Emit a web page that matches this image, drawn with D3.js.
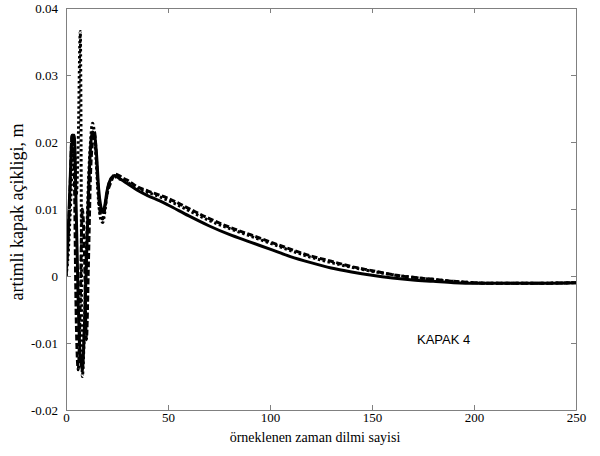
<!DOCTYPE html>
<html><head><meta charset="utf-8">
<script src="https://cdn.jsdelivr.net/npm/d3@7"></script>
<style>body{margin:0;background:#fff}svg{display:block}</style>
</head><body><svg id="c" width="600" height="456"></svg>
<script>
// x ticks / y ticks
const xTicks = [0, 50, 100, 150, 200, 250];
const yTicks = [-0.02, -0.01, 0, 0.01, 0.02, 0.03, 0.04];
const yTickLabels = ["-0.02", "-0.01", "0", "0.01", "0.02", "0.03", "0.04"];

// series 1: solid
const s1x = [0,1,2,3,4,5,6,7,8,9,10,11,12,13,14,15,16,17,18,19,20,22,24,26,28,30,35,40,46,50,60,70,80,90,100,110,120,130,140,150,160,170,180,190,200,225,250];
const s1y = [0,0.006,0.014,0.021,0.021,0.010,-0.004,-0.012,-0.014,-0.008,0.002,0.012,0.019,0.0215,0.021,0.018,0.013,0.0105,0.0095,0.0105,0.0125,0.0145,0.015,0.0146,0.0142,0.0138,0.0128,0.0120,0.0112,0.0106,0.0090,0.0075,0.0062,0.0051,0.0040,0.0029,0.0020,0.0012,0.0006,0.0001,-0.0003,-0.0006,-0.0008,-0.0010,-0.0011,-0.0011,-0.0010];

// series 2: dotted
const s2x = [0,1,2,3,4,5,6,7,8,9,10,11,12,13,14,15,16,17,18,19,20,22,24,26,28,30,35,40,50,60,70,80,90,100,110,120,130,140,150,160,170,180,190,200,210,225,250];
const s2y = [0,0.003,0.009,0.016,0.020,0.012,0.020,0.0365,-0.015,-0.008,0.004,0.014,0.020,0.0228,0.021,0.016,0.011,0.0085,0.008,0.0095,0.012,0.0145,0.0148,0.0145,0.0143,0.0140,0.0130,0.0125,0.0113,0.0098,0.0083,0.0071,0.0060,0.0049,0.0038,0.0028,0.0020,0.0013,0.0007,0.0002,-0.0002,-0.0005,-0.0008,-0.0010,-0.0011,-0.0011,-0.0010];

// series 3: dashed
const s3x = [0,1,2,3,4,5,6,7,8,9,10,11,12,13,14,15,16,17,18,19,20,22,24,26,28,30,35,40,50,60,70,80,90,100,110,120,130,140,150,160,170,180,190,200,210,225,250];
const s3y = [0,0.005,0.013,0.021,0.016,-0.006,-0.014,-0.004,0.010,0.004,-0.0095,0.002,0.015,0.020,0.0215,0.017,0.012,0.009,0.0085,0.010,0.012,0.014,0.0152,0.015,0.0146,0.0143,0.0133,0.0127,0.0116,0.0101,0.0086,0.0073,0.0062,0.0051,0.0040,0.0030,0.0022,0.0014,0.0008,0.0002,-0.0002,-0.0005,-0.0008,-0.0010,-0.0011,-0.0011,-0.0010];

const xLabel = "örneklenen zaman dilmi sayisi";
const yLabel = "artimli kapak açikligi, m";
const note = "KAPAK 4";

const svg = d3.select("#c");
const L = 66, R = 576, T = 8, B = 410;
const x = d3.scaleLinear().domain([0, 250]).range([L, R]);
const y = d3.scaleLinear().domain([-0.02, 0.04]).range([B, T]);
const axisColor = "#808080";
const serif = "'Liberation Serif','Times New Roman',serif";

svg.append("clipPath").attr("id","cp").append("rect")
  .attr("x", L).attr("y", T).attr("width", R-L).attr("height", B-T);

const line = d3.line().x(d => x(d[0])).y(d => y(d[1])).curve(d3.curveMonotoneX);
const g = svg.append("g").attr("clip-path","url(#cp)");
function draw(xs, ys, dash) {
  g.append("path").datum(xs.map((v,i)=>[v, ys[i]]))
    .attr("d", line).attr("fill","none").attr("stroke","#000")
    .attr("stroke-width", 3).attr("stroke-linejoin","round")
    .attr("stroke-dasharray", dash);
}
draw(s3x, s3y, "6,2.5");
draw(s2x, s2y, "2.5,2.5");
draw(s1x, s1y, null);

// axes
const ax = svg.append("g").attr("transform", `translate(0,${B})`)
  .call(d3.axisBottom(x).tickValues(xTicks).tickSize(-5).tickPadding(3).tickSizeOuter(0));
const axT = svg.append("g").attr("transform", `translate(0,${T})`)
  .call(d3.axisTop(x).tickValues(xTicks).tickSize(-5).tickFormat("").tickSizeOuter(0));
const ay = svg.append("g").attr("transform", `translate(${L},0)`)
  .call(d3.axisLeft(y).tickValues(yTicks).tickSize(-5).tickPadding(8).tickSizeOuter(0)
    .tickFormat((d,i)=>yTickLabels[i]));
const ayR = svg.append("g").attr("transform", `translate(${R},0)`)
  .call(d3.axisRight(y).tickValues(yTicks).tickSize(-5).tickFormat("").tickSizeOuter(0));
[ax, axT, ay, ayR].forEach(a => {
  a.selectAll("path.domain").attr("stroke", axisColor);
  a.selectAll("line").attr("stroke", axisColor);
  a.selectAll("text").attr("fill", "#000").attr("font-family", serif).attr("font-size", 13);
});

svg.append("text").attr("x", 315).attr("y", 442).attr("text-anchor","middle")
  .attr("font-family", serif).attr("font-size", 14).attr("fill","#000")
  .text(xLabel);
svg.append("text").attr("transform","translate(23,212) rotate(-90)").attr("text-anchor","middle")
  .attr("font-family", serif).attr("font-size", 18).attr("fill","#000")
  .text(yLabel);
svg.append("text").attr("x", 417).attr("y", 344)
  .attr("font-family", "'Liberation Sans',Arial,sans-serif").attr("font-size", 13).attr("fill","#000")
  .text(note);
</script></body></html>
